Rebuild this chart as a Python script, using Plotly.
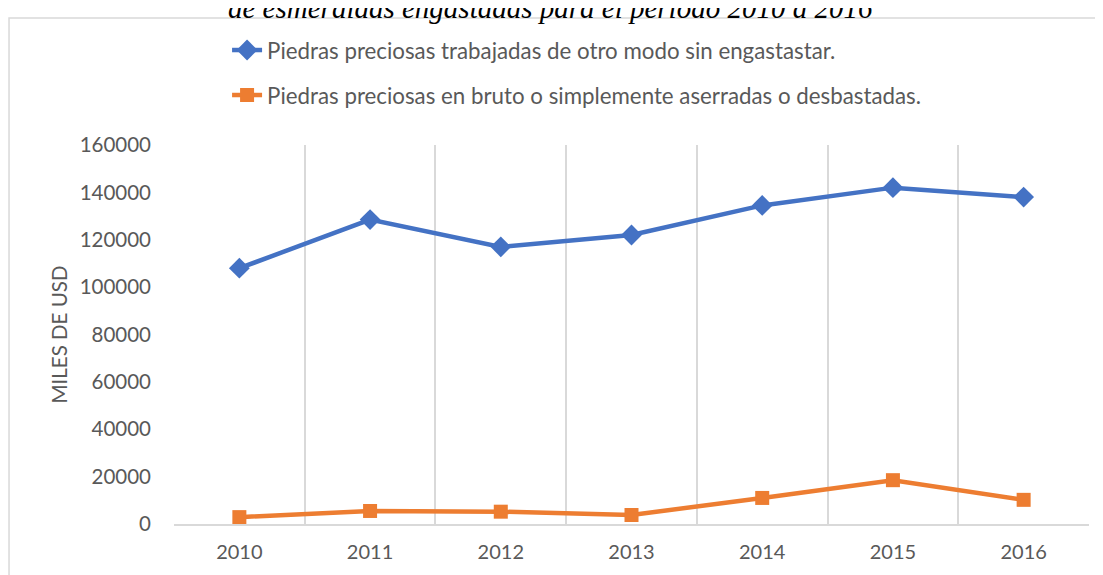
import plotly.graph_objects as go

years = ["2010", "2011", "2012", "2013", "2014", "2015", "2016"]
trabajadas = [108000, 128500, 117000, 122000, 134500, 142000, 138000]
en_bruto = [2900, 5500, 5200, 3800, 11000, 18500, 10200]

name_trabajadas = "Piedras preciosas trabajadas de otro modo sin engastastar."
name_bruto = "Piedras preciosas en bruto o simplemente aserradas o desbastadas."
title_text = "de esmeraldas engastadas para el periodo 2010 a 2016"

text_color = "#595959"
grid_color = "#D9D9D9"

fig = go.Figure()

fig.add_trace(
    go.Scatter(
        x=years,
        y=trabajadas,
        mode="lines+markers",
        name=name_trabajadas,
        line={"color": "#4472C4", "width": 4.5},
        marker={"symbol": "diamond", "size": 16, "color": "#4472C4"},
        legendgroup="a",
    )
)

fig.add_trace(
    go.Scatter(
        x=years,
        y=en_bruto,
        mode="lines+markers",
        name=name_bruto,
        line={"color": "#ED7D31", "width": 4.5},
        marker={"symbol": "square", "size": 14, "color": "#ED7D31"},
        legendgroup="b",
    )
)

# Outer chart border (cut off at right/bottom like the screenshot)
fig.add_shape(
    type="rect",
    xref="paper",
    yref="paper",
    x0=-0.1803,
    x1=1.0142,
    y0=-0.2,
    y1=1.335,
    line={"color": grid_color, "width": 1.5},
    layer="below",
)

fig.add_annotation(
    text=title_text,
    xref="paper",
    yref="paper",
    x=0.412,
    y=1.313,
    xanchor="center",
    yanchor="bottom",
    showarrow=False,
    font={
        "family": "Liberation Serif",
        "size": 29,
        "color": "#000000",
        "style": "italic",
    },
)

# page body adds an 8px offset, so margins are trimmed on the left/top
fig.update_layout(
    width=1103,
    height=575,
    margin={"l": 166, "r": 22, "t": 137, "b": 59, "autoexpand": False},
    paper_bgcolor="white",
    plot_bgcolor="white",
    font={"family": "Lato", "color": text_color, "size": 20},
    legend={
        "x": 0.058,
        "y": 1.306,
        "xanchor": "left",
        "yanchor": "top",
        "traceorder": "grouped",
        "tracegroupgap": 13,
        "font": {"size": 22.3, "color": text_color},
        "bgcolor": "rgba(0,0,0,0)",
    },
    xaxis={
        "type": "category",
        "range": [-0.5, 6.5],
        "tickson": "boundaries",
        "showgrid": True,
        "gridcolor": grid_color,
        "gridwidth": 1.5,
        "showline": True,
        "linecolor": grid_color,
        "linewidth": 1.5,
        "ticks": "",
        "tickfont": {"size": 20, "color": text_color},
        "ticklabelstandoff": 9,
        "zeroline": False,
    },
    yaxis={
        "range": [0, 160000],
        "dtick": 20000,
        "showgrid": False,
        "zeroline": False,
        "showline": False,
        "tickformat": "d",
        "ticks": "",
        "tickfont": {"size": 20.5, "color": text_color},
        "ticklabelstandoff": 22,
        "title": {
            "text": "MILES DE USD",
            "font": {"size": 20.5, "color": text_color},
            "standoff": 6,
        },
    },
)

fig.write_html("out.html")
